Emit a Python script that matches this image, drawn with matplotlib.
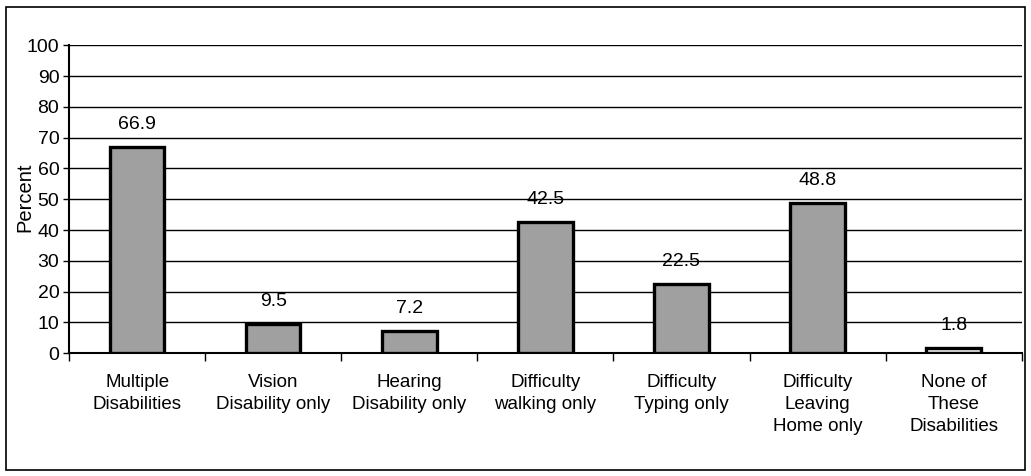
import matplotlib
matplotlib.use("Agg")
import matplotlib.pyplot as plt
import numpy as np
from matplotlib.patches import Rectangle

categories = [
    "Multiple\nDisabilities",
    "Vision\nDisability only",
    "Hearing\nDisability only",
    "Difficulty\nwalking only",
    "Difficulty\nTyping only",
    "Difficulty\nLeaving\nHome only",
    "None of\nThese\nDisabilities",
]
percent = [66.9, 9.5, 7.2, 42.5, 22.5, 48.8, 1.8]
bar_colors = ["#a0a0a0"] * 6 + ["#f0f0f0"]

plt.rcParams["font.family"] = ["Liberation Sans", "DejaVu Sans"]

fig = plt.figure(figsize=(10.31, 4.76), dpi=100)
ax = fig.add_axes([0.067, 0.258, 0.924, 0.647])

x = np.arange(len(categories))
ax.bar(x, percent, width=0.4, color=bar_colors, edgecolor="black",
       linewidth=2.4, zorder=3)
for xi, v in zip(x, percent):
    ax.text(xi, v + 4.5, f"{v}", ha="center", va="bottom", fontsize=14)

ax.set_xlim(-0.5, len(categories) - 0.5)
ax.set_ylim(0, 100)
ax.set_yticks(range(0, 101, 10))
ax.tick_params(axis="y", labelsize=14, length=4, width=1, pad=3)
ax.set_xticks(x)
ax.set_xticklabels(categories, fontsize=13.5, linespacing=1.38)
ax.tick_params(axis="x", length=0, pad=15)
ax.set_xticks(np.arange(-0.5, len(categories)), minor=True)
ax.tick_params(axis="x", which="minor", length=6, width=1)
ax.yaxis.grid(True, color="black", linewidth=1, zorder=0)
ax.set_axisbelow(True)
for side in ["top", "right"]:
    ax.spines[side].set_visible(False)
ax.spines["left"].set_linewidth(1.5)
ax.spines["bottom"].set_linewidth(1.5)

fig.text(0.024, 0.586, "Percent", rotation=90, ha="center", va="center",
         fontsize=14.5)

# outer chart frame
fig.patches.append(Rectangle((0.006, 0.013), 0.988, 0.972, transform=fig.transFigure,
                             fill=False, edgecolor="black", linewidth=1.2))

fig.savefig("out.png", dpi=100)
